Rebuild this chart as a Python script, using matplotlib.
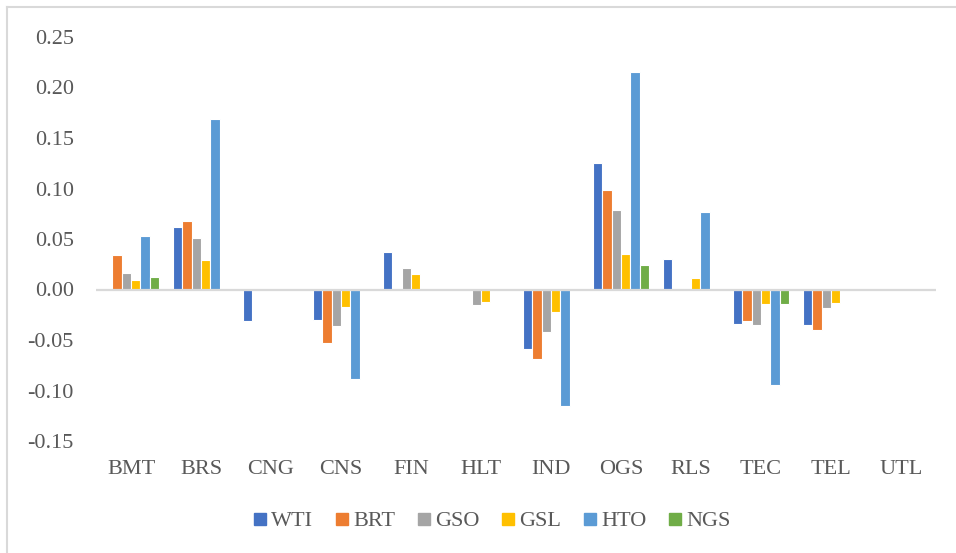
import numpy as np
import matplotlib.pyplot as plt
from matplotlib.lines import Line2D

sectors = ["BMT", "BRS", "CNG", "CNS", "FIN", "HLT", "IND", "OGS", "RLS", "TEC", "TEL", "UTL"]
series_names = ["WTI", "BRT", "GSO", "GSL", "HTO", "NGS"]

wti = [0.000, 0.062, -0.031, -0.030, 0.037, 0.000, -0.059, 0.125, 0.030, -0.034, -0.035, 0.000]
brt = [0.034, 0.068, 0.000, -0.053, 0.000, 0.000, -0.069, 0.099, 0.000, -0.031, -0.040, 0.000]
gso = [0.016, 0.051, 0.000, -0.036, 0.021, -0.015, -0.042, 0.079, 0.000, -0.035, -0.018, 0.000]
gsl = [0.009, 0.029, 0.000, -0.017, 0.015, -0.012, -0.022, 0.035, 0.011, -0.014, -0.013, 0.000]
hto = [0.053, 0.169, 0.000, -0.089, 0.000, 0.000, -0.115, 0.215, 0.077, -0.095, 0.000, 0.000]
ngs = [0.012, 0.000, 0.000, 0.000, 0.000, 0.000, 0.000, 0.024, 0.000, -0.014, 0.000, 0.000]

colors = ["#4472C4", "#ED7D31", "#A5A5A5", "#FFC000", "#5B9BD5", "#70AD47"]
yticks = [0.25, 0.20, 0.15, 0.10, 0.05, 0.00, -0.05, -0.10, -0.15]

plt.rcParams["font.family"] = ["Liberation Serif", "DejaVu Serif"]

W, H = 956, 553
fig = plt.figure(figsize=(W / 100, H / 100), dpi=100)
ax = fig.add_axes([96 / W, 1 - 441 / H, 840 / W, 404 / H])

x = np.arange(len(sectors))
all_series = [wti, brt, gso, gsl, hto, ngs]
w = 0.134
for i, (name, vals, c) in enumerate(zip(series_names, all_series, colors)):
    offs = (i - 2.5) * w
    ax.bar(x + offs, vals, width=w, color=c, edgecolor="white", linewidth=0.8, label=name, zorder=2)

ax.axhline(0, color="#D9D9D9", linewidth=1.6, zorder=3)
ax.set_xlim(-0.5, len(sectors) - 0.5)
ax.set_ylim(-0.15, 0.25)
ax.set_yticks(yticks)
ax.set_yticklabels([f"{v:.2f}" for v in yticks])
ax.set_xticks(x)
ax.set_xticklabels(sectors)
for s in ax.spines.values():
    s.set_visible(False)
ax.tick_params(axis="both", length=0, labelsize=16, colors="#595959")
ax.tick_params(axis="y", pad=16)
ax.tick_params(axis="x", pad=14)

handles = [Line2D([], [], marker="s", linestyle="none", markersize=8.5, color=c) for c in colors]
fig.legend(handles, series_names, loc="center", bbox_to_anchor=(492 / W, 1 - 521 / H),
           ncol=6, frameon=False, fontsize=16, handlelength=0.6, handletextpad=0.2,
           columnspacing=1.0, labelcolor="#595959")

# chart-area border (top and left edges)
bx, by = 7 / W, 1 - 6.5 / H
fig.add_artist(Line2D([bx, bx], [0, by], transform=fig.transFigure, color="#D9D9D9", linewidth=1.5))
fig.add_artist(Line2D([bx, 1], [by, by], transform=fig.transFigure, color="#D9D9D9", linewidth=1.5))

fig.savefig("out.png", dpi=100)
